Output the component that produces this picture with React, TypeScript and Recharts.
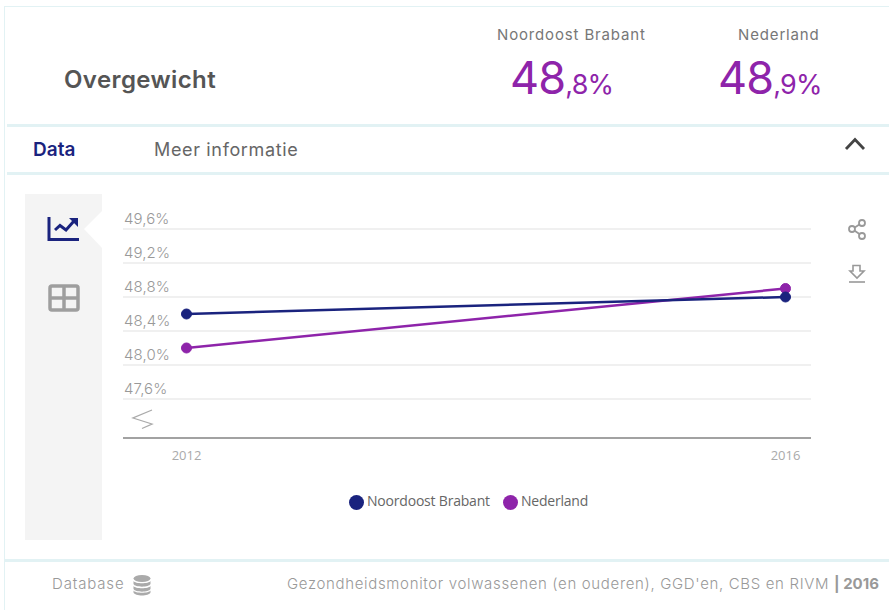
import { CartesianGrid, Legend, Line, LineChart, XAxis, YAxis } from "recharts";

const years = ["2012", "2016"];
const noordoostBrabant = [48.6, 48.8];
const nederland = [48.2, 48.9];
const yTicks = [47.6, 48.0, 48.4, 48.8, 49.2, 49.6];
const seriesNames = ["Noordoost Brabant", "Nederland"];

const chartData = years.map((year, i) => ({
  year,
  "Noordoost Brabant": noordoostBrabant[i],
  Nederland: nederland[i],
}));

const NAVY = "#1a237e";
const PURPLE = "#8e24aa";
const LINE = "#e2f2f4";
const FONT = "Inter, 'Open Sans', sans-serif";

const YTick = ({ y, payload }: any) => (
  <text x={124} y={y - 5} fill="#999" fontSize={15} fontWeight={300} fontFamily={FONT} textAnchor="start" letterSpacing={0.1}>
    {payload.value.toFixed(1).replace(".", ",")}%
  </text>
);

const Figure = ({ left, whole, rest }: { left: number; whole: string; rest: string }) => (
  <div style={{ position: "absolute", left, top: 51, color: PURPLE, fontFamily: FONT, whiteSpace: "nowrap", lineHeight: "54px" }}>
    <span style={{ fontSize: 45, letterSpacing: -0.8 }}>{whole}</span>
    <span style={{ fontSize: 27, letterSpacing: -0.8 }}>{rest}</span>
  </div>
);

const Label = ({ left, top, size, color, weight, spacing, children }: any) => (
  <div
    style={{
      position: "absolute",
      left,
      top,
      fontSize: size,
      color,
      fontWeight: weight ?? 400,
      letterSpacing: spacing ?? 0,
      fontFamily: FONT,
      whiteSpace: "nowrap",
      lineHeight: "20px",
    }}
  >
    {children}
  </div>
);

const Rule = ({ left, top, width, height, color }: any) => (
  <div style={{ position: "absolute", left, top, width, height, background: color ?? LINE }} />
);

const Icons = () => (
  <svg width={889} height={610} style={{ position: "absolute", left: 0, top: 0, pointerEvents: "none" }}>
    {/* side panel with notch */}
    <path d="M25 194H102V211L84 229L102 248V540H25Z" fill="#f4f4f4" />
    {/* trend icon */}
    <path d="M49 217V239.5H79" fill="none" stroke={NAVY} strokeWidth={3} />
    <path d="M55 230L60 225.5L66 230L74 221" fill="none" stroke={NAVY} strokeWidth={3} />
    <path d="M69 218H78V227Z" fill={NAVY} />
    {/* table icon */}
    <g fill="none" stroke="#9e9e9e" strokeWidth={3.5}>
      <rect x={50} y={286} width={28} height={24} rx={2} />
      <path d="M64 286V310M50 298H78" />
    </g>
    {/* axis break */}
    <path d="M152 410L133 418L152 424L142 428.5" fill="none" stroke="#aaa" strokeWidth={1.3} />
    {/* chevron */}
    <path d="M846 149L855 139.5L864 149" fill="none" stroke="#444" strokeWidth={2.8} />
    {/* share */}
    <g fill="none" stroke="#999" strokeWidth={1.8}>
      <circle cx={862} cy={223} r={3} />
      <circle cx={852} cy={229} r={3} />
      <circle cx={862} cy={236} r={3} />
      <path d="M854.7 227.5L859.4 224.5M854.7 230.8L859.4 234" />
    </g>
    {/* download */}
    <g fill="none" stroke="#999" strokeWidth={1.6}>
      <path d="M853 265.5H860V271H864L857 278L850 271H853Z" />
      <path d="M849 282H865" />
    </g>
    {/* database */}
    <g fill="#aaa">
      <ellipse cx={142} cy={578.5} rx={8.5} ry={3.5} />
      <path d="M133.5 581C135 584 149 584 150.5 581V584C149 587.5 135 587.5 133.5 584Z" />
      <path d="M133.5 586C135 589 149 589 150.5 586V589C149 592.5 135 592.5 133.5 589Z" />
      <path d="M133.5 590.5C135 593.5 149 593.5 150.5 590.5V592.5C149 596.5 135 596.5 133.5 592.5Z" />
    </g>
  </svg>
);

export default function App() {
  return (
    <div style={{ position: "fixed", left: 0, top: 0, width: 889, height: 610, background: "#fff", overflow: "hidden" }}>
      <Rule left={4} top={6} width={885} height={1} />
      <Rule left={4} top={6} width={1} height={604} />
      <Rule left={7} top={124} width={882} height={3} />
      <Rule left={7} top={172} width={882} height={3} />
      <Rule left={4} top={559} width={885} height={3} />

      <Label left={64} top={70} size={24} color="#555" weight={600} spacing={0.4}>Overgewicht</Label>
      <Label left={497} top={25} size={15} color="#777" spacing={0.85}>Noordoost Brabant</Label>
      <Label left={738} top={25} size={15} color="#777" spacing={0.85}>Nederland</Label>
      <Figure left={510} whole="48" rest=",8%" />
      <Figure left={718} whole="48" rest=",9%" />
      <Label left={33} top={140} size={19} color={NAVY} weight={600}>Data</Label>
      <Label left={154} top={140} size={18} color="#666" spacing={0.65}>Meer informatie</Label>

      <Icons />

      <div style={{ position: "absolute", left: 0, top: 190 }}>
        <LineChart width={889} height={340} data={chartData} margin={{ top: 39, right: 78, bottom: 43, left: 122 }}>
          <CartesianGrid horizontal vertical={false} stroke="#ebebeb" strokeWidth={1.5} />
          <XAxis
            dataKey="year"
            height={30}
            padding={{ left: 63.5, right: 25.5 }}
            axisLine={{ stroke: "#888", strokeWidth: 1.5 }}
            tickLine={false}
            tickMargin={7}
            tick={{ fontSize: 13, fill: "#aaa", fontFamily: "'Open Sans', sans-serif" }}
          />
          <YAxis
            width={1}
            domain={[47.141, 49.6]}
            ticks={yTicks}
            axisLine={false}
            tickLine={false}
            tick={<YTick />}
          />
          <Line dataKey="Nederland" stroke={PURPLE} strokeWidth={2.5} dot={{ r: 5, fill: PURPLE, stroke: PURPLE, strokeWidth: 1 }} isAnimationActive={false} />
          <Line dataKey="Noordoost Brabant" stroke={NAVY} strokeWidth={2.5} dot={{ r: 5, fill: NAVY, stroke: NAVY, strokeWidth: 1 }} isAnimationActive={false} />
          <Legend
            iconType="circle"
            iconSize={15}
            align="left"
            itemSorter={(item: any) => seriesNames.indexOf(item.value)}
            wrapperStyle={{ top: 301, left: 349, width: 400 }}
            formatter={(value: string) => (
              <span style={{ color: "#666", fontSize: 14, letterSpacing: -0.2, marginLeft: -1, marginRight: 3, fontFamily: "'Open Sans', sans-serif" }}>{value}</span>
            )}
          />
        </LineChart>
      </div>

      <Label left={52} top={574} size={15} weight={300} color="#999" spacing={0.85}>Database</Label>
      <Label left={287} top={574} size={15} weight={300} color="#999" spacing={0.66}>
        Gezondheidsmonitor volwassenen (en ouderen), GGD'en, CBS en RIVM <b style={{ color: "#999", fontWeight: 700, letterSpacing: 0 }}>| 2016</b>
      </Label>
    </div>
  );
}
